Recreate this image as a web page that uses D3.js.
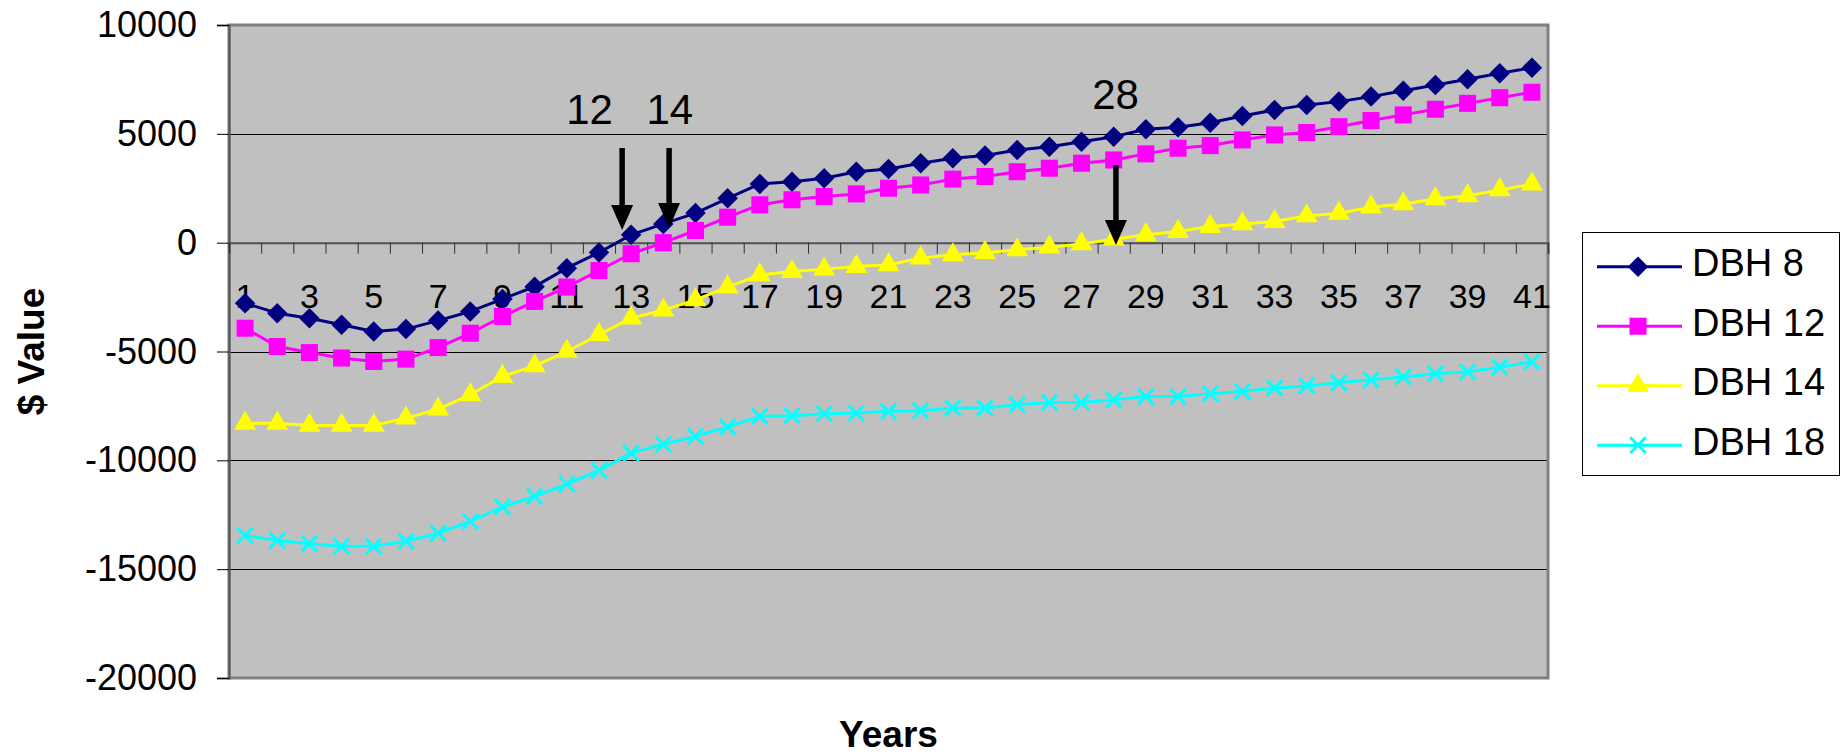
<!DOCTYPE html>
<html><head><meta charset="utf-8">
<script src="https://cdn.jsdelivr.net/npm/d3@7"></script>
<style>
body{margin:0;background:#fff;}
svg{display:block;}
text{font-family:"Liberation Sans",Arial,sans-serif;fill:#000;}
</style>
</head><body>
<svg id="chart" width="1843" height="755"></svg>
<script>
// ---------- data ----------
const years = d3.range(1, 42);
const xLabelYears = years.filter(d => d % 2 === 1);
const yTickValues = [10000, 5000, 0, -5000, -10000, -15000, -20000];
const seriesNames = ["DBH 8", "DBH 12", "DBH 14", "DBH 18"];
const dbh8 = [-2780,-3240,-3470,-3770,-4080,-3970,-3580,-3160,-2590,-2020,-1170,-450,360,860,1360,2040,2700,2800,2960,3260,3380,3650,3880,4000,4260,4410,4640,4870,5210,5300,5510,5820,6100,6330,6480,6710,6980,7240,7510,7780,8040];
const dbh12 = [-3930,-4770,-5050,-5300,-5460,-5350,-4820,-4160,-3390,-2700,-2040,-1280,-510,0,560,1170,1740,1970,2120,2240,2500,2650,2920,3040,3260,3420,3650,3800,4080,4340,4460,4720,4950,5060,5330,5610,5870,6130,6400,6660,6910];
const dbh14 = [-8300,-8300,-8400,-8400,-8400,-8060,-7650,-6990,-6150,-5660,-5000,-4230,-3470,-3100,-2630,-2040,-1480,-1330,-1220,-1100,-1020,-710,-560,-460,-330,-210,-60,160,360,510,740,860,970,1230,1350,1630,1780,2010,2150,2420,2690];
const dbh18 = [-13450,-13680,-13830,-13950,-13950,-13720,-13340,-12810,-12140,-11660,-11090,-10460,-9670,-9260,-8900,-8470,-7980,-7950,-7860,-7830,-7750,-7720,-7600,-7600,-7450,-7340,-7340,-7220,-7070,-7070,-6940,-6840,-6680,-6580,-6440,-6300,-6170,-6020,-5930,-5720,-5470];
const seriesValues = [dbh8, dbh12, dbh14, dbh18];
const seriesColors = ["#000080", "#FF00FF", "#FFFF00", "#00FFFF"];
const seriesMarkers = ["diamond", "square", "triangle", "x"];
// annotations (year positions and $ values)
const annoText = ["12", "14", "28"];
const annoTextYear = [11.71, 14.2, 28.06];
const annoTextValue = [5452, 5452, 6141];
const annoArrowYear = [12.72, 14.18, 28.07];
const annoArrowTop = [4349, 4349, 3568];
const annoArrowTip = [582, 674, -107];

// ---------- layout ----------
const plot = {left: 229, right: 1548, top: 25, bottom: 678};
const svg = d3.select("#chart");

const x = d3.scaleLinear().domain([0.5, 41.5]).range([plot.left, plot.right]);
const y = d3.scaleLinear().domain([-20000, 10000]).range([plot.bottom, plot.top]);

// plot background
svg.append("rect")
  .attr("x", plot.left).attr("y", plot.top)
  .attr("width", plot.right - plot.left).attr("height", plot.bottom - plot.top)
  .attr("fill", "#C0C0C0");

// gridlines
svg.append("g").selectAll("line")
  .data(yTickValues.filter(v => v !== 0 && v !== 10000 && v !== -20000))
  .join("line")
  .attr("x1", plot.left).attr("x2", plot.right)
  .attr("y1", d => Math.round(y(d)) + 0.5).attr("y2", d => Math.round(y(d)) + 0.5)
  .attr("stroke", "#000").attr("stroke-width", 1);

// plot border
svg.append("rect")
  .attr("x", plot.left).attr("y", plot.top)
  .attr("width", plot.right - plot.left).attr("height", plot.bottom - plot.top)
  .attr("fill", "none").attr("stroke", "#808080").attr("stroke-width", 3);

// y axis
const yAxis = d3.axisLeft(y).tickValues(yTickValues).tickSize(12).tickPadding(20).tickFormat(d => String(d));
const gy = svg.append("g").attr("transform", `translate(${plot.left},0)`).call(yAxis);
gy.select(".domain").attr("stroke", "#555").attr("stroke-width", 2);
gy.selectAll(".tick line").attr("stroke", "#000");
gy.selectAll(".tick text").attr("font-size", 36).attr("font-family", '"Liberation Sans",Arial,sans-serif').attr("fill", "#000");

// x axis at zero with ticks at category boundaries
const boundaries = d3.range(0, 42).map(i => i + 0.5);
const xAxis = d3.axisBottom(x).tickValues(boundaries).tickSize(11).tickFormat("");
const gx = svg.append("g").attr("transform", `translate(0,${y(0)})`).call(xAxis);
gx.select(".domain").attr("stroke", "#505050").attr("stroke-width", 2);
gx.selectAll(".tick line").attr("stroke", "#303030");

// category labels
svg.append("g").selectAll("text")
  .data(xLabelYears).join("text")
  .attr("x", d => x(d)).attr("y", 308)
  .attr("text-anchor", "middle").attr("font-size", 34)
  .text(d => d);

// markers
function markerPath(type) {
  if (type === "diamond") return d3.symbol(d3.symbolSquare, 210)();
  if (type === "square") return d3.symbol(d3.symbolSquare, 290)();
  if (type === "triangle") return d3.symbol(d3.symbolTriangle, 210)();
  return d3.symbol(d3.symbolX, 160)();
}
function drawMarker(g, type, color, cx, cy) {
  const p = g.append("path").attr("d", markerPath(type));
  if (type === "diamond") p.attr("transform", `translate(${cx},${cy}) rotate(45)`);
  else p.attr("transform", `translate(${cx},${cy})`);
  if (type === "x") p.attr("fill", "none").attr("stroke", color).attr("stroke-width", 3);
  else p.attr("fill", color).attr("stroke", "none");
}

const line = d3.line().x((d, i) => x(years[i])).y(d => y(d));
seriesValues.forEach((vals, s) => {
  const g = svg.append("g");
  g.append("path").datum(vals).attr("d", line)
    .attr("fill", "none").attr("stroke", seriesColors[s]).attr("stroke-width", 3)
    .attr("stroke-linejoin", "round");
  vals.forEach((v, i) => drawMarker(g, seriesMarkers[s], seriesColors[s], x(years[i]), y(v)));
});

// annotations
annoText.forEach((t, i) => {
  svg.append("text").attr("x", x(annoTextYear[i])).attr("y", y(annoTextValue[i]))
    .attr("text-anchor", "middle").attr("font-size", 42).text(t);
  const ax = x(annoArrowYear[i]), y0 = y(annoArrowTop[i]), y1 = y(annoArrowTip[i]);
  const headL = 25, headW = 11;
  svg.append("line").attr("x1", ax).attr("x2", ax).attr("y1", y0).attr("y2", y1 - headL + 2)
    .attr("stroke", "#000").attr("stroke-width", 5.5);
  svg.append("path")
    .attr("d", `M${ax - headW},${y1 - headL} L${ax + headW},${y1 - headL} L${ax},${y1} Z`)
    .attr("fill", "#000");
});

// axis titles
svg.append("text").attr("transform", `translate(44,${(plot.top + plot.bottom) / 2}) rotate(-90)`)
  .attr("text-anchor", "middle").attr("font-size", 37).attr("font-weight", "bold").text("$ Value");
svg.append("text").attr("x", (plot.left + plot.right) / 2).attr("y", 747)
  .attr("text-anchor", "middle").attr("font-size", 37).attr("font-weight", "bold").text("Years");

// legend
const lg = {left: 1582, top: 232, right: 1839, bottom: 475};
svg.append("rect").attr("x", lg.left + 0.5).attr("y", lg.top + 0.5)
  .attr("width", lg.right - lg.left).attr("height", lg.bottom - lg.top)
  .attr("fill", "#fff").attr("stroke", "#000").attr("stroke-width", 1);
seriesNames.forEach((name, s) => {
  const ry = 266.7 + s * 59.5;
  const g = svg.append("g");
  g.append("line").attr("x1", 1597).attr("x2", 1682).attr("y1", ry).attr("y2", ry)
    .attr("stroke", seriesColors[s]).attr("stroke-width", 3);
  drawMarker(g, seriesMarkers[s], seriesColors[s], 1638, ry);
  g.append("text").attr("x", 1692).attr("y", ry + 9.5).attr("font-size", 38).text(name);
});
</script>
</body></html>
